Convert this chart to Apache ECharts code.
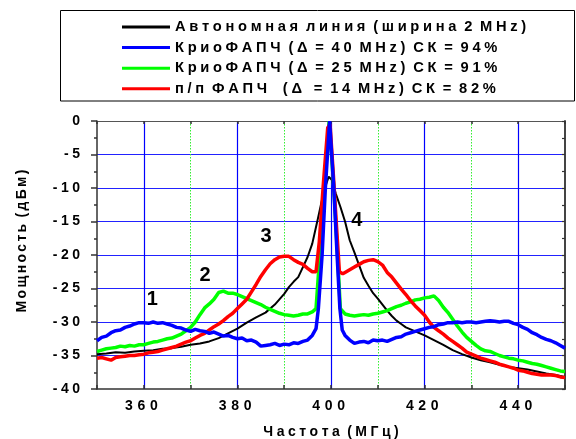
<!DOCTYPE html>
<html>
<head>
<meta charset="utf-8">
<script src="https://cdn.jsdelivr.net/npm/echarts@6/dist/echarts.min.js"></script>
<style>
html,body{margin:0;padding:0;background:#fff;}
#c{width:576px;height:439px;}
</style>
</head>
<body>
<div id="c"></div>
<script>
// ---- data ----
const seriesNames = [
  'Автономная линия (ширина 2 MHz)',
  'КриоФАПЧ (Δ = 40 MHz) СК = 94%',
  'КриоФАПЧ (Δ = 25 MHz) СК = 91%',
  'п/п ФАПЧ   (Δ  = 14 MHz) СК = 82%'
];
const seriesColors = ['#000000', '#0000ff', '#00ff00', '#ff0000'];

const xBlack = [350,352,354,356,358,360,362,364,366,368,370,372,374,376,378,380,382,384,386,388,390,391,392,393,394,395,396,397,398,398.8,399.5,400.2,401,402,403,404,405,406,407,408,409,410,411,412,413,414,415,416,418,420,422,424,426,428,430,432,434,436,438,440,442,444,446,448,450];
const yBlack = [-34.8,-34.7,-34.5,-34.6,-34.4,-34.3,-34.2,-34.0,-33.9,-33.7,-33.4,-33.2,-32.9,-32.4,-31.7,-31.0,-30.1,-29.3,-28.6,-27.4,-25.8,-24.8,-24.0,-23.3,-21.8,-20.3,-18.3,-15.2,-12.0,-9.8,-8.3,-8.8,-10.8,-12.8,-15.0,-17.8,-19.6,-21.5,-23.4,-24.6,-25.7,-26.5,-27.4,-28.3,-29.1,-29.8,-30.3,-30.8,-31.4,-32.0,-32.7,-33.4,-34.2,-34.8,-35.3,-35.7,-36.0,-36.4,-36.7,-36.9,-37.1,-37.4,-37.7,-37.9,-38.2];

const xBlue = [350,351,352,353,354,355,356,357,358,359,360,361,362,363,364,365,366,367,368,369,370,371,372,373,374,375,376,377,378,379,380,381,382,383,384,385,386,387,388,389,390,391,392,393,394,395,396,396.8,397.3,398.1,398.8,399.7,400.6,401.3,401.9,402.4,403,404,405,406,407,408,409,410,411,412,413,414,415,416,417,418,419,420,421,422,423,424,425,426,427,428,429,430,431,432,433,434,435,436,437,438,439,440,441,442,443,444,445,446,447,448,449,450];
const yBlue = [-32.8,-32.3,-32.1,-31.6,-31.3,-31.2,-30.8,-30.6,-30.3,-30.1,-30.1,-30.2,-30.0,-30.2,-30.1,-30.3,-30.5,-30.8,-30.9,-31.2,-31.4,-31.1,-31.3,-31.4,-31.7,-31.5,-31.8,-32.1,-32.0,-32.3,-32.5,-32.4,-32.8,-32.7,-33.0,-33.6,-33.5,-33.4,-33.2,-33.5,-33.3,-33.4,-33.1,-33.2,-32.9,-32.7,-32.0,-31.0,-28.0,-20.0,-10.0,0,-10.0,-20.0,-28.0,-31.2,-32.0,-32.7,-33.2,-33.0,-32.9,-33.1,-32.7,-32.8,-32.7,-32.9,-32.6,-32.3,-32.2,-31.8,-31.6,-31.4,-31.2,-31.0,-30.8,-30.7,-30.4,-30.3,-30.1,-30.1,-30.0,-30.1,-30.0,-30.0,-30.1,-30.0,-29.9,-29.8,-29.9,-30.0,-29.9,-29.9,-30.2,-30.4,-30.8,-31.1,-31.6,-31.9,-32.3,-32.6,-32.8,-33.1,-33.5,-33.9];

const xGreen = [350,351,352,353,354,355,356,357,358,359,360,361,362,363,364,365,366,367,368,369,370,371,372,373,374,375,376,377,378,379,380,381,382,383,384,385,386,387,388,389,390,391,392,393,394,395,396,396.8,397.6,398.6,399.6,400.6,401.4,402,403,404,405,406,407,408,409,410,411,412,413,414,415,416,417,418,419,420,421,422,423,424,425,426,427,428,429,430,431,432,433,434,435,436,437,438,439,440,441,442,443,444,445,446,447,448,449,450];
const yGreen = [-34.4,-34.2,-34.0,-33.9,-33.8,-33.6,-33.7,-33.5,-33.6,-33.4,-33.4,-33.2,-33.0,-32.9,-32.7,-32.5,-32.4,-32.1,-31.8,-31.3,-30.8,-30.0,-28.9,-27.9,-27.3,-26.6,-25.6,-25.4,-25.7,-25.7,-25.9,-26.2,-26.5,-26.8,-27.1,-27.4,-27.8,-28.1,-28.4,-28.7,-28.9,-29.0,-29.1,-29.0,-28.8,-28.8,-28.5,-28.0,-20.0,-10.0,0,-10.0,-20.0,-28.0,-28.8,-29.0,-29.1,-29.0,-28.9,-29.0,-28.8,-28.7,-28.5,-28.3,-28.0,-27.7,-27.5,-27.2,-27.0,-26.7,-26.6,-26.4,-26.3,-26.1,-26.8,-27.8,-28.6,-29.6,-30.6,-31.5,-32.3,-32.9,-33.5,-34.0,-34.3,-34.4,-34.7,-35.0,-35.2,-35.4,-35.5,-35.7,-35.8,-36.0,-36.2,-36.3,-36.5,-36.7,-36.9,-37.1,-37.3,-37.4];

const xRed = [350,351,352,353,354,355,356,357,358,359,360,361,362,363,364,365,366,367,368,369,370,371,372,373,374,375,376,377,378,379,380,381,382,383,384,385,386,387,388,389,390,391,392,393,394,395,396,396.8,397.5,398.3,399.3,399.8,400.5,401.2,401.8,402.5,403,404,405,406,407,408,409,410,411,412,413,414,415,416,417,418,419,420,421,422,423,424,425,426,427,428,429,430,431,432,433,434,435,436,437,438,439,440,441,442,443,444,445,446,447,448,449,450];
const yRed = [-35.4,-35.3,-35.5,-35.7,-35.3,-35.2,-35.1,-35.0,-35.0,-34.9,-34.8,-34.6,-34.5,-34.4,-34.2,-34.0,-33.8,-33.6,-33.3,-33.0,-32.8,-32.4,-32.0,-31.7,-31.2,-30.7,-30.3,-29.8,-29.2,-28.7,-28.0,-27.3,-26.6,-25.5,-24.4,-23.2,-22.2,-21.3,-20.7,-20.3,-20.2,-20.2,-20.7,-21.1,-21.4,-22.0,-22.5,-22.5,-18.0,-10.0,-1.0,-0.5,-8.0,-16.0,-22.5,-22.8,-22.6,-22.2,-21.8,-21.4,-21.0,-20.8,-20.7,-21.0,-21.5,-22.6,-23.3,-24.2,-25.1,-25.9,-26.8,-27.6,-28.3,-29.0,-30.0,-30.8,-31.3,-31.8,-32.4,-32.9,-33.4,-33.9,-34.5,-34.8,-35.1,-35.4,-35.6,-35.8,-36.0,-36.3,-36.5,-36.7,-36.9,-37.2,-37.3,-37.5,-37.7,-37.8,-37.9,-37.9,-37.9,-38.0,-38.2,-38.3];

const annText = ['1', '2', '3', '4'];
const annX = [361.8, 373.1, 386.1, 405.5];
const annY = [-26.7, -23.0, -17.3, -14.8];

const xTitle = 'Частота (МГц)';
const yTitle = 'Мощность (дБм)';

// ---- helpers ----
const FONT = '"Liberation Sans", Arial, sans-serif';
function spaced(s, sep, trail) {
  sep = sep || '\u2005';
  const ch = Array.from(s);
  let out = '';
  for (let i = 0; i < ch.length; i++) {
    out += ch[i];
    if (i < ch.length - 1 && ch[i] !== ' ') out += sep;
  }
  if (trail) out += sep;
  return out;
}
function pairs(xs, ys) { return xs.map((x, i) => [x, ys[i]]); }

const chart = echarts.init(document.getElementById('c'), null, {renderer: 'canvas'});

const xs = [xBlack, xBlue, xGreen, xRed];
const ys = [yBlack, yBlue, yGreen, yRed];
const widths = [2, 3.5, 3.5, 3.5];
const zs = [3, 6, 4, 5];

const lineSeries = seriesNames.map((n, i) => ({
  name: n,
  type: 'line',
  data: pairs(xs[i], ys[i]),
  symbol: 'none',
  showSymbol: false,
  smooth: false,
  z: zs[i],
  lineStyle: {color: seriesColors[i], width: widths[i]},
  itemStyle: {color: seriesColors[i]},
  animation: false
}));

const axisLineStyle = {color: '#333333', width: 1.5};

chart.setOption({
  animation: false,
  backgroundColor: '#ffffff',
  grid: {left: 97, top: 121, right: 11, bottom: 50, containLabel: false},
  legend: {
    data: seriesNames,
    orient: 'vertical',
    left: 122,
    top: 19.5,
    padding: 0,
    itemGap: 5.6,
    itemWidth: 48,
    itemHeight: 3,
    icon: 'rect',
    selectedMode: false,
    formatter: n => spaced(n, '\u2005'),
    textStyle: {fontFamily: FONT, fontWeight: 'bold', fontSize: 14.7, color: '#000', lineHeight: 14.7}
  },
  xAxis: [
    {
      type: 'value', min: 350, max: 450, interval: 10, position: 'bottom',
      axisLine: {show: true, onZero: false, lineStyle: axisLineStyle},
      axisTick: {show: true, inside: true, length: 4, lineStyle: {color: '#333', width: 1.5}},
      axisLabel: {
        margin: 10,
        fontFamily: FONT, fontWeight: 'bold', fontSize: 14, color: '#000',
        formatter: v => (v % 20 === 0 && v > 350 && v < 450) ? spaced(String(v), '\u2004', true) : ''
      },
      splitLine: {show: true, showMinLine: true, showMaxLine: true,
        lineStyle: {color: ['rgba(0,0,0,0)', '#0000ff'], width: 1.2}}
    },
    {
      type: 'value', min: 350, max: 450, interval: 10, position: 'top',
      axisLine: {show: true, onZero: false, lineStyle: {color: '#555', width: 1}},
      axisTick: {show: true, inside: true, length: 3, lineStyle: {color: '#333', width: 1.5}},
      axisLabel: {show: false},
      splitLine: {show: false}
    },
    {
      type: 'value', min: 350, max: 450, interval: 20, position: 'bottom',
      axisLine: {show: false}, axisTick: {show: false}, axisLabel: {show: false},
      splitLine: {show: true, showMinLine: false, showMaxLine: false,
        lineStyle: {color: '#33ee33', width: 1, type: [1.5, 1.5]}}
    }
  ],
  yAxis: [
    {
      type: 'value', min: -40, max: 0, interval: 5, position: 'left',
      axisLine: {show: true, onZero: false, lineStyle: axisLineStyle},
      axisTick: {show: true, inside: false, length: 6, lineStyle: {color: '#333', width: 1.5}},
      minorTick: {show: true, splitNumber: 2, length: 3, lineStyle: {color: '#333', width: 1.5}},
      axisLabel: {
        margin: 17,
        fontFamily: FONT, fontWeight: 'bold', fontSize: 14, color: '#000',
        formatter: v => spaced(String(v))
      },
      splitLine: {show: true, showMinLine: false, showMaxLine: false,
        lineStyle: {color: '#2222ff', width: 1.2}}
    },
    {
      type: 'value', min: -40, max: 0, interval: 2.5, position: 'right',
      axisLine: {show: true, onZero: false, lineStyle: {color: '#444', width: 2}},
      axisTick: {show: true, inside: true, length: 3, lineStyle: {color: '#333', width: 1.2}},
      axisLabel: {show: false},
      splitLine: {show: false}
    }
  ],
  series: lineSeries
});

// static decorations + annotation numbers (positioned through the chart's own coordinate system)
const graphics = [
  {id: 'legendBox', type: 'rect', shape: {x: 60.5, y: 10.5, width: 514, height: 90.5},
    style: {fill: 'none', stroke: '#000', lineWidth: 1}, silent: true},
  {id: 'xTitle', type: 'text', x: 331, y: 432,
    style: {text: spaced(xTitle), font: 'bold 14px ' + FONT, fill: '#000', align: 'center', verticalAlign: 'middle'}},
  {id: 'yTitle', type: 'text', x: 22.5, y: 241, rotation: Math.PI / 2,
    style: {text: spaced(yTitle, '\u2006'), font: 'bold 14px ' + FONT, fill: '#000', align: 'center', verticalAlign: 'middle'}}
];
annText.forEach((t, i) => {
  const p = chart.convertToPixel({xAxisIndex: 0, yAxisIndex: 0}, [annX[i], annY[i]]);
  graphics.push({id: 'ann' + i, type: 'text', x: p[0], y: p[1], z: 20,
    style: {text: t, font: 'bold 20px ' + FONT, fill: '#000', align: 'center', verticalAlign: 'middle'}});
});
chart.setOption({graphic: graphics});
</script>
</body>
</html>
